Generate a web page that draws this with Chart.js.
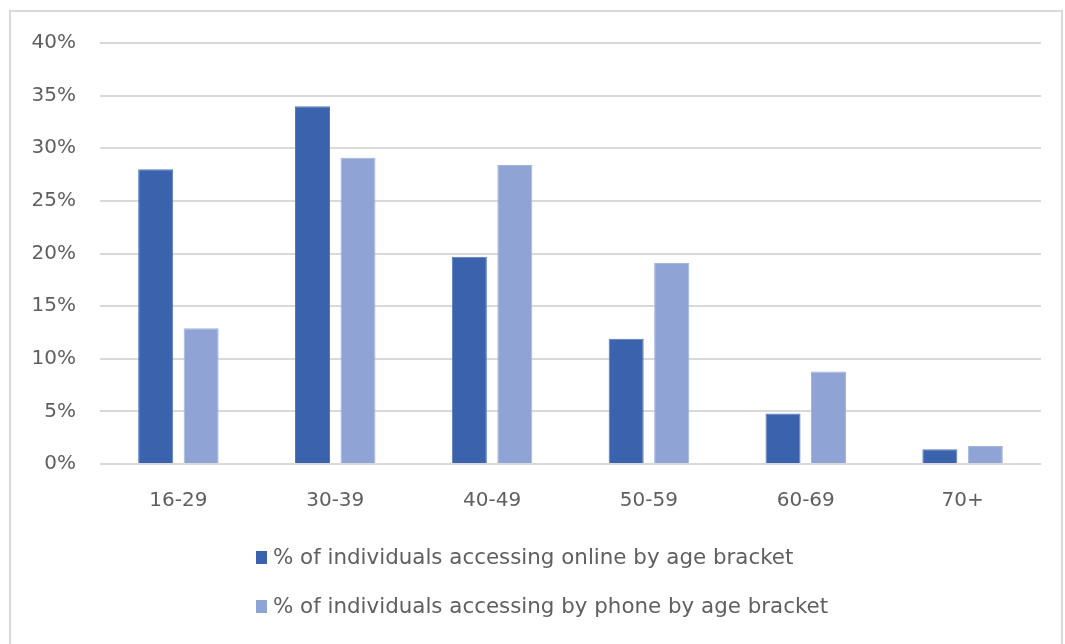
<!DOCTYPE html>
<html>
<head>
<meta charset="utf-8">
<script src="https://cdn.jsdelivr.net/npm/chart.js@4/dist/chart.umd.min.js"></script>
<style>
  html, body { margin: 0; padding: 0; background: #ffffff; }
  #wrap { position: relative; width: 1065px; height: 644px; }
</style>
</head>
<body>
<div id="wrap"><canvas id="chart" width="1065" height="644"></canvas></div>
<script>
// Age brackets along the x axis
const ageBrackets = ['16-29', '30-39', '40-49', '50-59', '60-69', '70+'];

// Share of individuals in each bracket (percent)
const onlineShare = [28, 34, 19.7, 11.9, 4.8, 1.4];
const phoneShare = [12.9, 29.1, 28.4, 19.1, 8.8, 1.7];

// Series names
const onlineLabel = '% of individuals accessing online by age bracket';
const phoneLabel = '% of individuals accessing by phone by age bracket';

// Value axis ticks
const yTickValues = [0, 5, 10, 15, 20, 25, 30, 35, 40];

const FONT = '"DejaVu Sans", "Open Sans", sans-serif';
const TEXT = '#5f5f5f';
const GRID = '#d9d9d9';
const ONLINE_COLOR = '#3b63ad';
const PHONE_COLOR = '#8fa4d5';

// Outer frame around the whole chart
const framePlugin = {
  id: 'frame',
  beforeDraw(chart) {
    const ctx = chart.ctx;
    ctx.save();
    ctx.strokeStyle = GRID;
    ctx.lineWidth = 2;
    ctx.strokeRect(10, 11, 1052, 650);
    ctx.restore();
  }
};

// Stacked legend beneath the axis, one series per row
const legendPlugin = {
  id: 'stackedLegend',
  afterDraw(chart) {
    const ctx = chart.ctx;
    const area = chart.chartArea;
    const left = area.left + 156;
    const rows = [area.bottom + 94, area.bottom + 143];
    ctx.save();
    ctx.font = '21.4px ' + FONT;
    ctx.textBaseline = 'middle';
    chart.data.datasets.forEach((ds, i) => {
      const y = rows[i];
      ctx.fillStyle = ds.backgroundColor;
      ctx.fillRect(left, y - 7, 11, 13);
      ctx.fillStyle = TEXT;
      ctx.fillText(ds.label, left + 17, y);
    });
    ctx.restore();
  }
};

new Chart(document.getElementById('chart'), {
  type: 'bar',
  data: {
    labels: ageBrackets,
    datasets: [
      {
        label: onlineLabel,
        data: onlineShare,
        backgroundColor: ONLINE_COLOR,
        borderColor: '#5578ba',
        borderWidth: 1
      },
      {
        label: phoneLabel,
        data: phoneShare,
        backgroundColor: PHONE_COLOR,
        borderColor: '#a3b4de',
        borderWidth: 1
      }
    ]
  },
  options: {
    responsive: false,
    animation: false,
    devicePixelRatio: 1,
    categoryPercentage: 0.58,
    barPercentage: 0.77,
    layout: { padding: { top: 43, right: 24, left: 0, bottom: 0 } },
    plugins: {
      legend: { display: false },
      tooltip: { enabled: false }
    },
    scales: {
      x: {
        grid: { display: false, drawTicks: false },
        border: { display: false },
        ticks: {
          color: TEXT,
          font: { family: FONT, size: 20 },
          padding: 25
        },
        afterFit(scale) { scale.height = 180; }
      },
      y: {
        min: 0,
        max: 40,
        afterBuildTicks(scale) {
          scale.ticks = yTickValues.map(v => ({ value: v }));
        },
        grid: { color: GRID, lineWidth: 2, drawTicks: false },
        border: { display: false },
        ticks: {
          color: TEXT,
          font: { family: FONT, size: 20 },
          padding: 24,
          callback: v => v + '%'
        },
        afterFit(scale) { scale.width = 100; }
      }
    }
  },
  plugins: [framePlugin, legendPlugin]
});
</script>
</body>
</html>
